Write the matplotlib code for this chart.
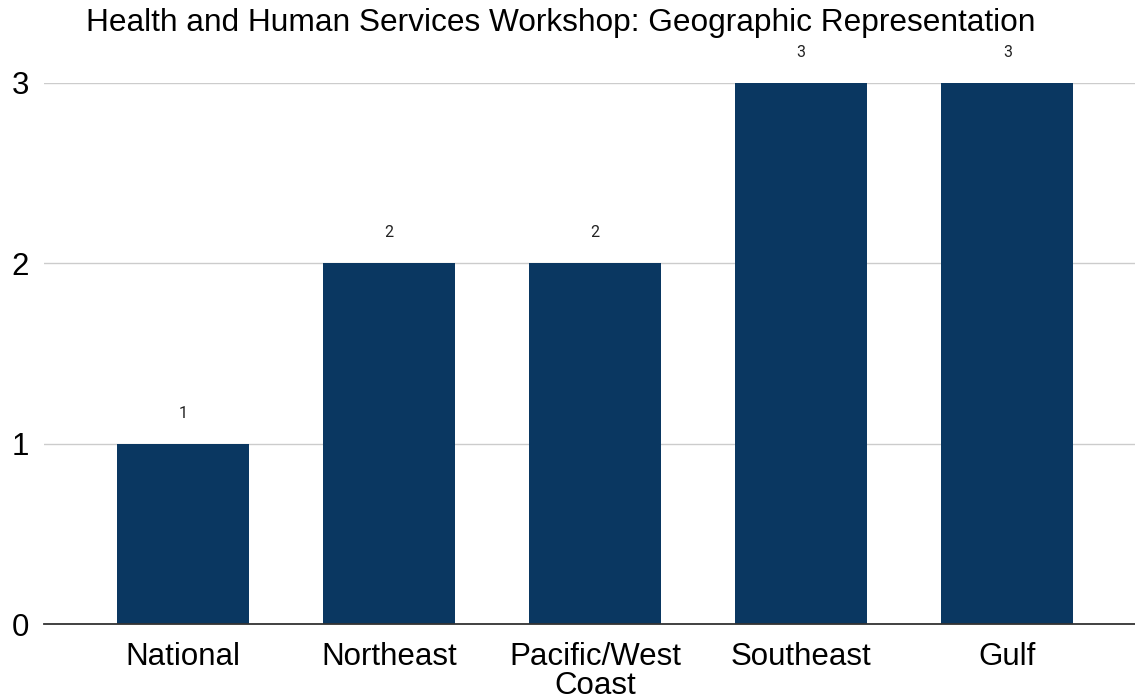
import matplotlib.pyplot as plt

regions = ["National", "Northeast", "Pacific/West\nCoast", "Southeast", "Gulf"]
counts = [1, 2, 2, 3, 3]
y_ticks = [0, 1, 2, 3]

bar_color = "#0a3761"

fig = plt.figure(figsize=(11.35, 7.0), dpi=100)
ax = fig.add_axes([44 / 1135, 1 - 624 / 700, 1 - 44 / 1135, (624 - 83) / 700])

x = range(len(regions))
bars = ax.bar(x, counts, width=0.64, color=bar_color, zorder=3)

for rect, v in zip(bars, counts):
    ax.annotate(str(v), (rect.get_x() + rect.get_width() / 2, v),
                xytext=(0, 22), textcoords="offset points",
                ha="center", va="center", fontsize=11.5,
                family="Roboto", color="#222222", annotation_clip=False)

ax.set_xlim(-0.675, 4.62)
ax.set_ylim(0, 3)
ax.set_yticks(y_ticks)
ax.set_yticklabels([str(t) for t in y_ticks], family="Liberation Sans", fontsize=22.5)
ax.set_xticks(list(x))
ax.set_xticklabels(regions, family="Liberation Sans", fontsize=22.5, linespacing=0.97)
ax.tick_params(axis="both", length=0)
ax.tick_params(axis="x", pad=13)
ax.tick_params(axis="y", pad=11)

ax.grid(axis="y", color="#cccccc", linewidth=1, zorder=0)
for s in ["top", "right", "left"]:
    ax.spines[s].set_visible(False)
ax.spines["bottom"].set_color("#333333")
ax.spines["bottom"].set_linewidth(1.3)
ax.spines["bottom"].set_zorder(4)

fig.text(561 / 1135, 1 - 23 / 700, "Health and Human Services Workshop: Geographic Representation",
         ha="center", va="center", fontsize=22.8, family="Liberation Sans")

fig.savefig("out.png", dpi=100, facecolor="white")
